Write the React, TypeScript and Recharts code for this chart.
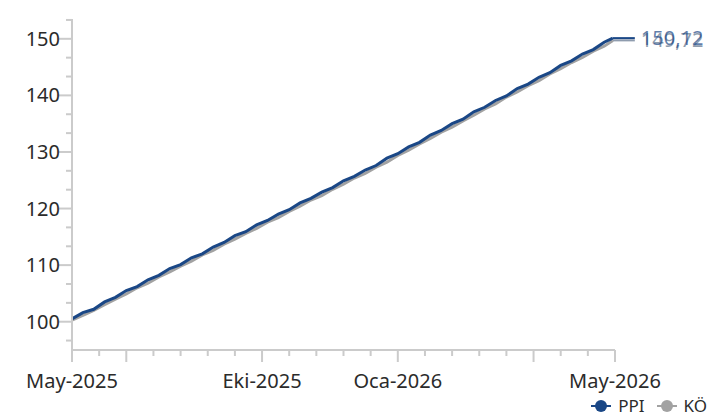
import { ComposedChart, Line, XAxis, YAxis, Legend } from "recharts";

// x positions in axis-step units (0 = May-2025, 20 = May-2026)
const xPos = [
  0, 0.4, 0.8, 1.2, 1.6, 2, 2.4, 2.8, 3.2, 3.6, 4, 4.4, 4.8, 5.2, 5.6, 6, 6.4,
  6.8, 7.2, 7.6, 8, 8.4, 8.8, 9.2, 9.6, 10, 10.4, 10.8, 11.2, 11.6, 12, 12.4,
  12.8, 13.2, 13.6, 14, 14.4, 14.8, 15.2, 15.6, 16, 16.4, 16.8, 17.2, 17.6, 18,
  18.4, 18.8, 19.2, 19.6, 19.92,
];

const ppi = [
  100.5, 101.6, 102.2, 103.5, 104.3, 105.5, 106.2, 107.4, 108.2, 109.4, 110.1,
  111.3, 112.0, 113.2, 114.0, 115.2, 115.9, 117.1, 117.9, 119.0, 119.8, 121.0,
  121.8, 122.9, 123.7, 124.9, 125.7, 126.8, 127.6, 128.9, 129.7, 130.9, 131.7,
  133.0, 133.8, 135.0, 135.8, 137.1, 137.9, 139.1, 139.9, 141.2, 142.0, 143.2,
  144.0, 145.3, 146.1, 147.3, 148.1, 149.4, 150.12,
];

const ko = [
  100.3, 101.1, 102.0, 103.0, 104.0, 104.9, 106.0, 106.8, 107.9, 108.8, 109.8,
  110.7, 111.8, 112.6, 113.7, 114.6, 115.6, 116.5, 117.6, 118.4, 119.5, 120.4,
  121.5, 122.3, 123.4, 124.3, 125.4, 126.2, 127.3, 128.2, 129.4, 130.3, 131.4,
  132.4, 133.5, 134.4, 135.5, 136.5, 137.6, 138.5, 139.7, 140.6, 141.7, 142.6,
  143.8, 144.7, 145.8, 146.7, 147.8, 148.7, 149.72,
];

const xTicks = [0, 1, 2, 3, 4, 5, 6, 7, 8, 9, 10, 11, 12, 13, 14, 15, 16, 17, 18, 19, 20];
const xMajorTicks = [0, 2, 7, 12, 17, 20];
const xLabelTicks = [0, 7, 12, 20];
const xLabelTexts = ["May-2025", "Eki-2025", "Oca-2026", "May-2026"];

const yTicks = [
  96.67, 100, 103.33, 106.67, 110, 113.33, 116.67, 120, 123.33, 126.67, 130,
  133.33, 136.67, 140, 143.33, 146.67, 150, 153.33,
];
const yLabelTicks = [100, 110, 120, 130, 140, 150];

const BLUE = "#1a4786";
const GREY = "#a2a2a2";
const AXIS = "#cbcbcb";
const FONT = "'Noto Sans', sans-serif";

const data = xPos.map((x, i) => ({ x, ppi: ppi[i], ko: ko[i] }));
const last = data.length - 1;

const fmt = (v: number) => v.toFixed(2).replace(".", ",");

const XTick = ({ x, y, payload }: any) => {
  const v = payload.value;
  const major = xMajorTicks.includes(v);
  const li = xLabelTicks.indexOf(v);
  return (
    <g>
      <line x1={x} x2={x} y1={y} y2={y + (major ? 12 : 6)} stroke={AXIS} strokeWidth={2} />
      {li >= 0 && (
        <text x={x} y={y + 38} textAnchor="middle" fontSize={20} fill="#2b2b2b" fontFamily={FONT}>
          {xLabelTexts[li]}
        </text>
      )}
    </g>
  );
};

const YTick = ({ x, y, payload }: any) => {
  const v = payload.value;
  const major = yLabelTicks.includes(v);
  return (
    <g>
      <line x1={x} x2={x - (major ? 13 : 6)} y1={y} y2={y} stroke={AXIS} strokeWidth={2} />
      {major && (
        <text x={x - 12} y={y + 7} textAnchor="end" fontSize={20} fill="#2b2b2b" fontFamily={FONT}>
          {v}
        </text>
      )}
    </g>
  );
};

const endLabel = (color: string, opacity: number) => (p: any) => {
  if (p.index !== last) return <g key={`d${p.index}`} />;
  return (
    <g key={`d${p.index}`}>
      <line x1={p.cx} x2={p.cx + 22} y1={p.cy} y2={p.cy} stroke={color} strokeWidth={2} />
      <text
        x={p.cx + 28}
        y={p.cy + 7}
        fontSize={20}
        fill={color}
        fillOpacity={opacity}
        fontFamily={FONT}
      >
        {fmt(p.value)}
      </text>
    </g>
  );
};

const legendItems = [
  { name: "PPI", color: BLUE },
  { name: "KÖ", color: GREY },
];

const renderLegend = () => (
  <div
    style={{
      display: "flex",
      justifyContent: "flex-end",
      alignItems: "center",
      height: 20,
      paddingRight: 11,
      fontFamily: FONT,
      fontSize: 17,
      lineHeight: "20px",
      color: "#2b2b2b",
    }}
  >
    {legendItems.map((it, i) => (
      <div key={it.name} style={{ display: "flex", alignItems: "center", marginLeft: i ? 12 : 0 }}>
        <svg width={20} height={14} style={{ marginRight: 7 }}>
          <line x1={0} x2={20} y1={7} y2={7} stroke={it.color} strokeWidth={2} />
          <circle cx={10} cy={7} r={6} fill={it.color} />
        </svg>
        <span>{it.name}</span>
      </div>
    ))}
  </div>
);

export default function App() {
  return (
    <div style={{ position: "absolute", left: 0, top: 0, width: 718, height: 416, background: "#fff" }}>
      <ComposedChart
        width={718}
        height={416}
        data={data}
        margin={{ top: 19, right: 103, bottom: 0, left: 0 }}
      >
        <XAxis
          dataKey="x"
          type="number"
          domain={[0, 20]}
          ticks={xTicks}
          interval={0}
          tick={<XTick />}
          tickLine={false}
          tickSize={0}
          tickMargin={0}
          axisLine={{ stroke: AXIS, strokeWidth: 2 }}
          height={46}
        />
        <YAxis
          type="number"
          domain={[95, 153.5]}
          ticks={yTicks}
          interval={0}
          tick={<YTick />}
          tickLine={false}
          tickSize={0}
          tickMargin={0}
          axisLine={{ stroke: AXIS, strokeWidth: 2 }}
          width={72}
        />
        <Legend
          verticalAlign="bottom"
          align="right"
          content={renderLegend}
          wrapperStyle={{ left: 0, width: 718 }}
        />
        <Line
          dataKey="ko"
          stroke={GREY}
          strokeWidth={3}
          dot={endLabel("#8f9cae", 1)}
          activeDot={false}
          isAnimationActive={false}
        />
        <Line
          dataKey="ppi"
          stroke={BLUE}
          strokeWidth={3}
          dot={endLabel(BLUE, 0.7)}
          activeDot={false}
          isAnimationActive={false}
        />
      </ComposedChart>
    </div>
  );
}
